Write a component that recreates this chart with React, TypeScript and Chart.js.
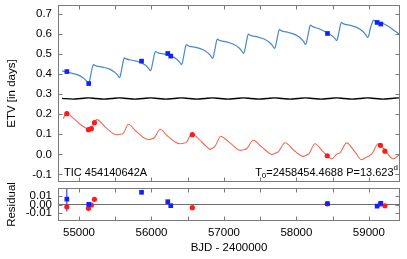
import React, { useEffect, useRef } from "react";
import { Chart, registerables } from "chart.js";

Chart.register(...registerables);

const FONT = '"Liberation Sans", Arial, Helvetica, sans-serif';

// axis ranges and ticks
const xRange = [54710, 59430];
const etvRange = [-0.138, 0.745];
const resRange = [-0.02, 0.02];
const xTickValues = [55000, 56000, 57000, 58000, 59000];
const xMinorTicks = [55000, 55500, 56000, 56500, 57000, 57500, 58000, 58500, 59000];
const etvTickValues = [-0.1, 0.0, 0.1, 0.2, 0.3, 0.4, 0.5, 0.6, 0.7];
const resTickValues = [-0.01, 0.0, 0.01];

// primary (blue) model curve
const primaryModelX = [
  54767, 54793, 54897, 54994, 55066, 55105, 55130, 55142, 55165, 55188, 55200,
  55221, 55325, 55422, 55494, 55533, 55558, 55570, 55593, 55616, 55628,
  55649, 55753, 55850, 55922, 55961, 55986, 55998, 56021, 56044, 56056,
  56077, 56181, 56278, 56350, 56389, 56414, 56426, 56449, 56472, 56484,
  56505, 56609, 56706, 56778, 56817, 56842, 56854, 56877, 56900, 56912,
  56933, 57037, 57134, 57206, 57245, 57270, 57282, 57305, 57328, 57340,
  57361, 57465, 57562, 57634, 57673, 57698, 57710, 57733, 57756, 57768,
  57789, 57893, 57990, 58062, 58101, 58126, 58138, 58161, 58184, 58196,
  58217, 58321, 58418, 58490, 58529, 58554, 58566, 58589, 58612, 58624,
  58645, 58749, 58846, 58918, 58957, 58985, 58997, 59020, 59053, 59065,
  59086, 59190, 59287, 59359, 59398, 59428,
];
const primaryModelY = [
  0.418, 0.413, 0.405, 0.395, 0.379, 0.365, 0.353, 0.361, 0.4005, 0.44, 0.448,
  0.443, 0.435, 0.425, 0.409, 0.395, 0.383, 0.391, 0.432, 0.473, 0.481,
  0.476, 0.468, 0.458, 0.443, 0.429, 0.417, 0.425, 0.465, 0.505, 0.513,
  0.508, 0.5, 0.49, 0.474, 0.46, 0.448, 0.456, 0.498, 0.54, 0.548,
  0.542, 0.534, 0.523, 0.506, 0.491, 0.478, 0.486, 0.5265, 0.567, 0.575,
  0.569, 0.561, 0.549, 0.532, 0.516, 0.503, 0.511, 0.5515, 0.592, 0.6,
  0.594, 0.586, 0.574, 0.557, 0.541, 0.528, 0.536, 0.5755, 0.615, 0.623,
  0.617, 0.608, 0.596, 0.578, 0.562, 0.548, 0.556, 0.5965, 0.637, 0.645,
  0.639, 0.625, 0.608, 0.592, 0.58, 0.567, 0.574, 0.6125, 0.651, 0.658,
  0.652, 0.643, 0.631, 0.613, 0.597, 0.583, 0.59, 0.6265, 0.663, 0.67,
  0.665, 0.654, 0.635, 0.615, 0.605, 0.595,
];

// secondary (red) model curve
const secondaryModelX = [
  54785, 54823, 54901, 55016, 55108, 55140, 55165, 55213, 55246, 55360, 55475,
  55522, 55580, 55613, 55682, 55774, 55889, 55957, 56010, 56040, 56119,
  56211, 56326, 56395, 56455, 56487, 56556, 56647, 56763, 56808, 56850,
  56877, 56956, 57015, 57108, 57222, 57280, 57314, 57405, 57521, 57636,
  57660, 57720, 57750, 57843, 57957, 58095, 58140, 58174, 58256, 58371,
  58487, 58560, 58601, 58693, 58808, 58900, 58960, 59040, 59129, 59222,
  59336, 59390, 59428,
];
const secondaryModelY = [
  0.178, 0.207, 0.187, 0.15, 0.128, 0.122, 0.127, 0.158, 0.173, 0.137, 0.103,
  0.098, 0.101, 0.106, 0.15, 0.12, 0.084, 0.074, 0.078, 0.084, 0.125,
  0.095, 0.062, 0.053, 0.057, 0.062, 0.103, 0.078, 0.037, 0.025, 0.033,
  0.04, 0.09, 0.078, 0.05, 0.02, 0.024, 0.028, 0.07, 0.037, 0.003,
  0.0, 0.008, 0.012, 0.058, 0.023, -0.01, -0.004, 0.003, 0.053, 0.012,
  -0.022, 0.002, 0.007, 0.057, 0.012, -0.027, -0.015, 0.002, 0.053, 0.02,
  -0.022, -0.012, 0.003,
];

// black (average) curve
const averageModelX = [
  54767, 54916, 55023, 55130, 55237, 55344, 55451, 55558, 55665, 55772, 55879,
  55986, 56093, 56200, 56307, 56414, 56521, 56628, 56735, 56842, 56949,
  57056, 57163, 57270, 57377, 57484, 57591, 57698, 57805, 57912, 58019,
  58126, 58233, 58340, 58447, 58554, 58661, 58768, 58875, 58982, 59089,
  59196, 59303, 59410, 59428,
];
const averageModelY = [
  0.2795, 0.2755, 0.2785, 0.2815, 0.2785, 0.2755, 0.2785, 0.2815, 0.2785, 0.2755, 0.2785,
  0.2815, 0.2785, 0.2755, 0.2785, 0.2815, 0.2785, 0.2755, 0.2785, 0.2815, 0.2785,
  0.2755, 0.2785, 0.2815, 0.2785, 0.2755, 0.2785, 0.2815, 0.2785, 0.2755, 0.2785,
  0.2815, 0.2785, 0.2755, 0.2785, 0.2815, 0.2785, 0.2755, 0.2785, 0.2815, 0.2785,
  0.2755, 0.2785, 0.2815, 0.2815,
];

// observed eclipse times
const primaryObsX = [54832, 55134, 55863, 56225, 56266, 58429, 59114, 59165];
const primaryObsY = [0.413, 0.353, 0.465, 0.503, 0.49, 0.603, 0.658, 0.65];
const secondaryObsX = [54832, 55130, 55170, 55213, 56564, 58426, 59160, 59222];
const secondaryObsY = [0.203, 0.123, 0.128, 0.158, 0.098, -0.007, 0.045, 0.016];

// residuals
const primaryResY = [0.0065, 0.0002, 0.0148, 0.0034, -0.0014, 0.001, -0.002, 0.0015];
const primaryResErr = [0.015, 0, 0, 0, 0, 0, 0, 0];
const secondaryResY = [-0.0027, -0.0046, -0.0006, 0.0063, -0.0039, 0.0008, 0.0005, -0.0015];

const BLUE_LINE = "#4a88c8";
const RED_LINE = "#f36a58";
const BLUE_PT = "#1020ff";
const RED_PT = "#ff1a1a";
const FRAME = "#7a7a7a";

// bottom canvas geometry (page coords)
const BOT_TOP = 150;

function pts(xs: number[], ys: number[]) {
  return xs.map((x, i) => ({ x, y: ys[i] }));
}

function framePlugin(xTicks: number[], yTicks: number[]) {
  return {
    id: "frame",
    afterDatasetsDraw(chart: any) {
      const { ctx, chartArea } = chart;
      const xs = chart.scales.x;
      const ys = chart.scales.y;
      const L = Math.round(chartArea.left) + 0.5;
      const R = Math.round(chartArea.right) - 0.5;
      const T = Math.round(chartArea.top) + 0.5;
      const B = Math.round(chartArea.bottom) - 0.5;
      ctx.save();
      ctx.strokeStyle = FRAME;
      ctx.lineWidth = 1;
      ctx.strokeRect(L, T, R - L, B - T);
      ctx.beginPath();
      const len = 4;
      for (const v of xTicks) {
        const p = Math.round(xs.getPixelForValue(v)) + 0.5;
        ctx.moveTo(p, B);
        ctx.lineTo(p, B - len);
        ctx.moveTo(p, T);
        ctx.lineTo(p, T + len);
      }
      for (const v of yTicks) {
        const p = Math.round(ys.getPixelForValue(v)) + 0.5;
        ctx.moveTo(L, p);
        ctx.lineTo(L + len, p);
        ctx.moveTo(R, p);
        ctx.lineTo(R - len, p);
      }
      ctx.stroke();
      ctx.restore();
    },
  };
}

const topTextPlugin = {
  id: "topText",
  afterDraw(chart: any) {
    const { ctx, chartArea } = chart;
    ctx.save();
    ctx.fillStyle = "#000";
    ctx.font = `11.5px ${FONT}`;
    ctx.textAlign = "center";
    ctx.textBaseline = "middle";
    ctx.translate(12, (chartArea.top + chartArea.bottom) / 2);
    ctx.rotate(-Math.PI / 2);
    ctx.fillText("ETV [in days]", 0, 0);
    ctx.restore();

    ctx.save();
    ctx.fillStyle = "#000";
    ctx.textBaseline = "alphabetic";
    ctx.textAlign = "left";
    ctx.font = `11px ${FONT}`;
    const base = 175.5;
    ctx.fillText("TIC 454140642A", 64, base);

    const mainFont = `11px ${FONT}`;
    const smallFont = `8px ${FONT}`;
    ctx.font = mainFont;
    const wT = ctx.measureText("T").width;
    const w2 = ctx.measureText("=2458454.4688 P=13.623").width;
    ctx.font = smallFont;
    const w0 = ctx.measureText("0").width;
    const wd = ctx.measureText("d").width;
    let x = 398 - (wT + w0 + w2 + wd);
    ctx.font = mainFont;
    ctx.fillText("T", x, base);
    x += wT;
    ctx.font = smallFont;
    ctx.fillText("0", x, base + 2.5);
    x += w0;
    ctx.font = mainFont;
    ctx.fillText("=2458454.4688 P=13.623", x, base);
    x += w2;
    ctx.font = smallFont;
    ctx.fillText("d", x, base - 6);
    ctx.restore();
  },
};

const bottomTextPlugin = {
  id: "bottomText",
  afterDraw(chart: any) {
    const { ctx, chartArea } = chart;
    ctx.save();
    ctx.fillStyle = "#000";
    ctx.font = `11.5px ${FONT}`;
    ctx.textAlign = "center";
    ctx.textBaseline = "middle";
    ctx.save();
    ctx.translate(12, (chartArea.top + chartArea.bottom) / 2);
    ctx.rotate(-Math.PI / 2);
    ctx.fillText("Residual", 0, 0);
    ctx.restore();
    ctx.fillText("BJD - 2400000", (chartArea.left + chartArea.right) / 2, 248 - BOT_TOP);
    ctx.restore();
  },
};

function fixY(s: any) {
  s.width = 58;
  s.paddingTop = 0;
  s.paddingBottom = 0;
  s.paddingLeft = 0;
  s.paddingRight = 0;
}

export default function App() {
  const topRef = useRef<HTMLCanvasElement>(null);
  const botRef = useRef<HTMLCanvasElement>(null);

  useEffect(() => {
    document.body.style.margin = "0";
    Chart.defaults.font.family = FONT;
    Chart.defaults.color = "#000";

    const errData: any[] = [];
    primaryObsX.forEach((x, i) => {
      if (primaryResErr[i] > 0) {
        errData.push({ x, y: primaryResY[i] - primaryResErr[i] });
        errData.push({ x, y: primaryResY[i] + primaryResErr[i] });
        errData.push({ x: NaN, y: NaN });
      }
    });

    const top = new Chart(topRef.current!, {
      type: "scatter",
      data: {
        datasets: [
          {
            data: pts(primaryObsX, primaryObsY),
            pointStyle: "rect",
            pointRadius: 3.3,
            backgroundColor: BLUE_PT,
            borderColor: BLUE_PT,
            borderWidth: 0,
          } as any,
          {
            data: pts(secondaryObsX, secondaryObsY),
            pointStyle: "circle",
            pointRadius: 2.6,
            backgroundColor: RED_PT,
            borderColor: RED_PT,
            borderWidth: 0,
          },
          {
            type: "line",
            data: pts(primaryModelX, primaryModelY),
            showLine: true,
            borderColor: BLUE_LINE,
            borderWidth: 1.2,
            pointRadius: 0,
            cubicInterpolationMode: "monotone",
            fill: false,
          } as any,
          {
            type: "line",
            data: pts(averageModelX, averageModelY),
            showLine: true,
            borderColor: "#000",
            borderWidth: 1.3,
            pointRadius: 0,
            cubicInterpolationMode: "monotone",
            fill: false,
          } as any,
          {
            type: "line",
            data: pts(secondaryModelX, secondaryModelY),
            showLine: true,
            borderColor: RED_LINE,
            borderWidth: 1.1,
            pointRadius: 0,
            cubicInterpolationMode: "monotone",
            fill: false,
          } as any,
        ],
      },
      options: {
        responsive: false,
        animation: false,
        layout: { padding: { top: 5, right: 7, bottom: 4, left: 0 } },
        plugins: { legend: { display: false }, tooltip: { enabled: false } },
        scales: {
          x: {
            type: "linear",
            display: false,
            min: xRange[0],
            max: xRange[1],
          },
          y: {
            type: "linear",
            min: etvRange[0],
            max: etvRange[1],
            grid: { display: false, drawTicks: false },
            border: { display: false },
            afterBuildTicks: (s: any) => {
              s.ticks = etvTickValues.map((v) => ({ value: v }));
            },
            afterFit: fixY,
            ticks: {
              autoSkip: false,
              padding: 6,
              font: { size: 11.5 },
              color: "#000",
              callback: (v: any) => Number(v).toFixed(1),
            },
          },
        },
      },
      plugins: [framePlugin(xMinorTicks, etvTickValues), topTextPlugin],
    });

    const bot = new Chart(botRef.current!, {
      type: "scatter",
      data: {
        datasets: [
          {
            data: pts(primaryObsX, primaryResY),
            pointStyle: "rect",
            pointRadius: 3.3,
            backgroundColor: BLUE_PT,
            borderColor: BLUE_PT,
            borderWidth: 0,
          } as any,
          {
            data: pts(secondaryObsX, secondaryResY),
            pointStyle: "circle",
            pointRadius: 2.6,
            backgroundColor: RED_PT,
            borderColor: RED_PT,
            borderWidth: 0,
          },
          {
            type: "line",
            data: errData,
            showLine: true,
            spanGaps: false,
            borderColor: BLUE_PT,
            borderWidth: 1,
            pointRadius: 0,
            fill: false,
          } as any,
        ],
      },
      options: {
        responsive: false,
        animation: false,
        layout: { padding: { top: 188 - BOT_TOP, right: 7, bottom: 0, left: 0 } },
        plugins: { legend: { display: false }, tooltip: { enabled: false } },
        scales: {
          x: {
            type: "linear",
            min: xRange[0],
            max: xRange[1],
            grid: { display: false, drawTicks: false },
            border: { display: false },
            afterBuildTicks: (s: any) => {
              s.ticks = xTickValues.map((v) => ({ value: v }));
            },
            afterFit: (s: any) => {
              s.height = 259 - 221;
              s.paddingLeft = 0;
              s.paddingRight = 0;
              s.paddingTop = 0;
              s.paddingBottom = 0;
            },
            ticks: {
              autoSkip: false,
              padding: 5,
              maxRotation: 0,
              font: { size: 11.5 },
              color: "#000",
              callback: (v: any) => String(Math.round(Number(v))),
            },
          },
          y: {
            type: "linear",
            min: resRange[0],
            max: resRange[1],
            grid: {
              display: true,
              drawTicks: false,
              lineWidth: 1,
              color: (c: any) => (c.tick && Math.abs(c.tick.value) < 1e-9 ? "#6e6e6e" : "rgba(0,0,0,0)"),
            },
            border: { display: false },
            afterBuildTicks: (s: any) => {
              s.ticks = resTickValues.map((v) => ({ value: v }));
            },
            afterFit: fixY,
            ticks: {
              autoSkip: false,
              padding: 6,
              font: { size: 11.5 },
              color: "#000",
              callback: (v: any) => Number(v).toFixed(2),
            },
          },
        },
      },
      plugins: [framePlugin(xMinorTicks, resTickValues), bottomTextPlugin],
    });

    return () => {
      top.destroy();
      bot.destroy();
    };
  }, []);

  return (
    <div style={{ position: "relative", width: 407, height: 259, background: "#fff" }}>
      <canvas
        ref={topRef}
        width={407}
        height={186}
        style={{ position: "absolute", left: 0, top: 0, width: 407, height: 186 }}
      />
      <canvas
        ref={botRef}
        width={407}
        height={259 - BOT_TOP}
        style={{ position: "absolute", left: 0, top: BOT_TOP, width: 407, height: 259 - BOT_TOP }}
      />
    </div>
  );
}
